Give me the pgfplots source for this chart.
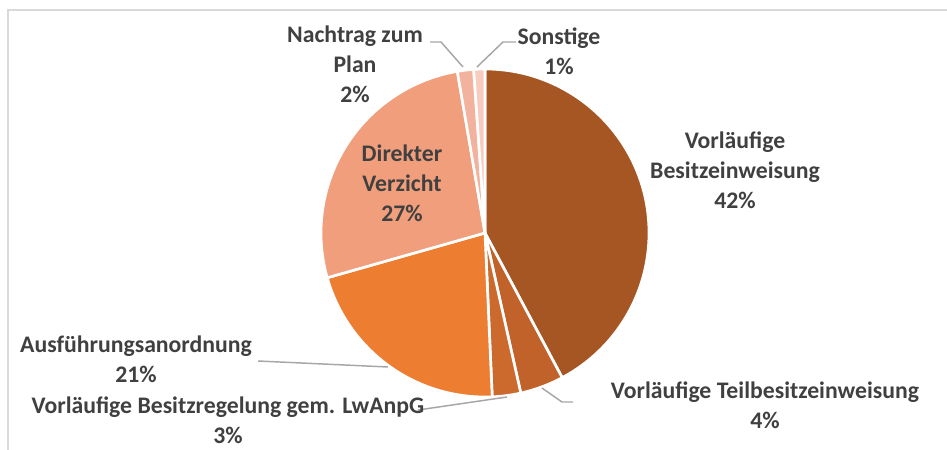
\documentclass[border=0pt]{standalone}
\usepackage{pgfplots}
\usepackage{pgfplotstable}
\pgfplotsset{compat=1.18}
\usepackage{fontspec}
\setmainfont{Carlito}
\definecolor{slice0}{HTML}{A65623}
\definecolor{slice1}{HTML}{C2622B}
\definecolor{slice2}{HTML}{CC6A2D}
\definecolor{slice3}{HTML}{ED7D31}
\definecolor{slice4}{HTML}{F09E7B}
\definecolor{slice5}{HTML}{F3B29D}
\definecolor{slice6}{HTML}{F7CBBE}
\definecolor{txt}{HTML}{404040}
\definecolor{lead}{HTML}{A6A6A6}
\definecolor{frame}{HTML}{D9D9D9}
\tikzset{lbl/.style={text=txt, font=\bfseries\fontsize{17.8}{22.5}\selectfont, align=center, inner sep=0pt}}

% share of each category in percent (clockwise from 12 o'clock)
\pgfplotstableread[col sep=comma]{
category,value
Vorläufige Besitzeinweisung,42.2
Vorläufige Teilbesitzeinweisung,4.3
Vorläufige Besitzregelung gem. LwAnpG,2.8
Ausführungsanordnung,21.3
Direkter Verzicht,26.7
Nachtrag zum Plan,1.6
Sonstige,1.1
}\piedata

\xdef\cum{0}
\foreach \i in {0,...,6}{%
  \pgfplotstablegetelem{\i}{value}\of\piedata
  \pgfmathsetmacro\sa{90-3.6*\cum}%
  \pgfmathsetmacro\sb{\sa-3.6*\pgfplotsretval}%
  \expandafter\xdef\csname sa\i\endcsname{\sa}%
  \expandafter\xdef\csname sb\i\endcsname{\sb}%
  \pgfmathsetmacro\nc{\cum+\pgfplotsretval}%
  \xdef\cum{\nc}%
}

\begin{document}
\begin{tikzpicture}
\begin{axis}[
  scale only axis, width=710.25pt, height=337.5pt,
  xmin=0, xmax=947, ymin=0, ymax=450,
  hide axis, clip=false,
]
% frame
\draw[frame, line width=1.5pt] (axis cs:8,0) -- (axis cs:8,440) -- (axis cs:947,440);
% slices
\pgfplotsinvokeforeach{0,...,6}{
  \filldraw[fill=slice#1, draw=white, line width=2pt, line join=round]
    (axis cs:485,217) -- ++(\csname sa#1\endcsname:123pt)
    arc[start angle=\csname sa#1\endcsname, end angle=\csname sb#1\endcsname, radius=123pt] -- cycle;
}
% leader lines
\addplot[lead, line width=1.1pt, no marks] coordinates {(430,408) (441,408) (463,383)};
\addplot[lead, line width=1.1pt, no marks] coordinates {(516,408) (503,408) (477,383)};
\addplot[lead, line width=1.1pt, no marks] coordinates {(258,89) (388,83)};
\addplot[lead, line width=1.1pt, no marks] coordinates {(418,40) (507,53)};
\addplot[lead, line width=1.1pt, no marks] coordinates {(573,48) (562,48) (542,62)};
% labels
\node[lbl] at (axis cs:735,280) {Vorläufige\\Besitzeinweisung\\42\%};
\node[lbl] at (axis cs:765,45) {Vorläufige Teilbesitzeinweisung\\4\%};
\node[lbl] at (axis cs:228,30) {Vorläufige Besitzregelung gem. LwAnpG\\3\%};
\node[lbl] at (axis cs:136,91) {Ausführungsanordnung\\21\%};
\node[lbl] at (axis cs:402,267) {Direkter\\Verzicht\\27\%};
\node[lbl] at (axis cs:355,386) {Nachtrag zum\\Plan\\2\%};
\node[lbl] at (axis cs:559,399) {Sonstige\\1\%};
\end{axis}
\pgfresetboundingbox
\path (current axis.south west) rectangle (current axis.north east);
\end{tikzpicture}
\end{document}
